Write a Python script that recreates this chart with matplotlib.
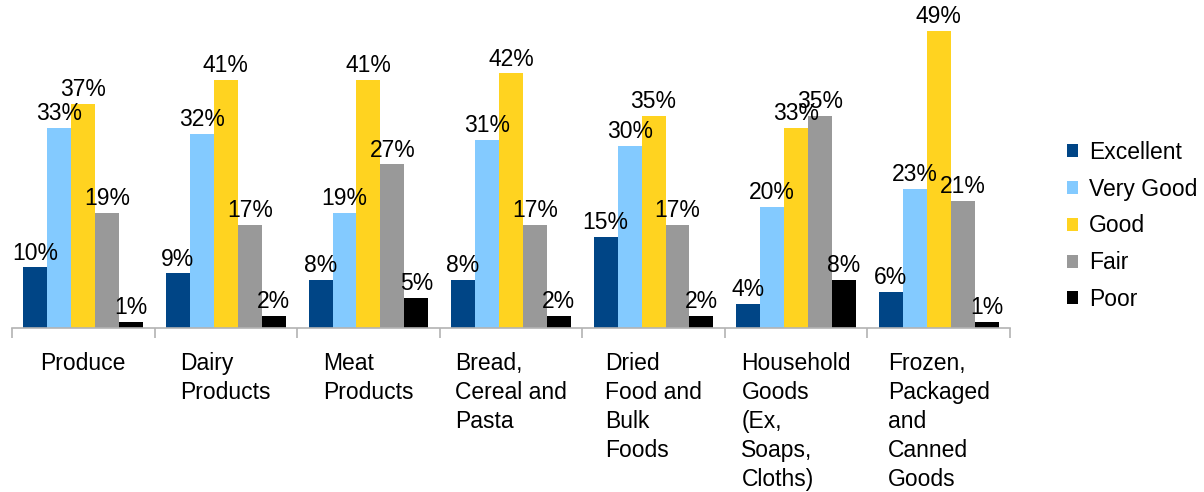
import matplotlib
matplotlib.use("Agg")
import matplotlib.pyplot as plt
import numpy as np
from matplotlib.ticker import FixedLocator

plt.rcParams['font.family'] = ['Liberation Sans', 'DejaVu Sans']

categories = [
    "Produce",
    "Dairy\nProducts",
    "Meat\nProducts",
    "Bread,\nCereal and\nPasta",
    "Dried\nFood and\nBulk\nFoods",
    "Household\nGoods\n(Ex,\nSoaps,\nCloths)",
    "Frozen,\nPackaged\nand\nCanned\nGoods",
]
series = ["Excellent", "Very Good", "Good", "Fair", "Poor"]
excellent = [10, 9, 8, 8, 15, 4, 6]
very_good = [33, 32, 19, 31, 30, 20, 23]
good = [37, 41, 41, 42, 35, 33, 49]
fair = [19, 17, 27, 17, 17, 35, 21]
poor = [1, 2, 5, 2, 2, 8, 1]
colors = ["#004586", "#83caff", "#ffd320", "#999999", "#000000"]

values = [excellent, very_good, good, fair, poor]

W, H = 1204, 492
fig = plt.figure(figsize=(W / 100, H / 100), dpi=100)
ax = fig.add_axes([12 / W, (H - 328) / H, 998 / W, 328 / H])

x = np.arange(len(categories))
bw = 0.168
fs = 16.5
for i, (name, vals, col) in enumerate(zip(series, values, colors)):
    pos = x + (i - 2) * bw
    bars = ax.bar(pos, vals, width=bw, color=col, label=name, zorder=2)
    for b, v in zip(bars, vals):
        ax.annotate(f"{v}%", (b.get_x() + b.get_width() / 2, v),
                    xytext=(0, 2), textcoords="offset points",
                    ha="center", va="bottom", fontsize=fs, color="black")

ax.set_xlim(-0.5, len(categories) - 0.5)
ax.set_ylim(0, 328 / 6.06)

for s in ["top", "right", "left"]:
    ax.spines[s].set_visible(False)
ax.spines["bottom"].set_color("#b3b3b3")
ax.spines["bottom"].set_linewidth(1.2)
ax.set_yticks([])

ax.set_xticks(x)
ax.set_xticklabels(categories, fontsize=fs, ha="center", va="top",
                   multialignment="left", linespacing=1.34)
ax.tick_params(axis="x", which="major", length=0, pad=17)
ax.xaxis.set_minor_locator(FixedLocator(np.arange(-0.5, len(categories), 1.0)))
ax.tick_params(axis="x", which="minor", length=7.5, width=1.2, color="#b3b3b3")

fig.legend(loc="center left", bbox_to_anchor=(1067 / W, 1 - 226 / H),
           frameon=False, fontsize=fs, borderpad=0, borderaxespad=0,
           handlelength=0.5, handleheight=0.5, handletextpad=0.45,
           labelspacing=0.6)

fig.savefig("out.png", dpi=100, facecolor="white")
